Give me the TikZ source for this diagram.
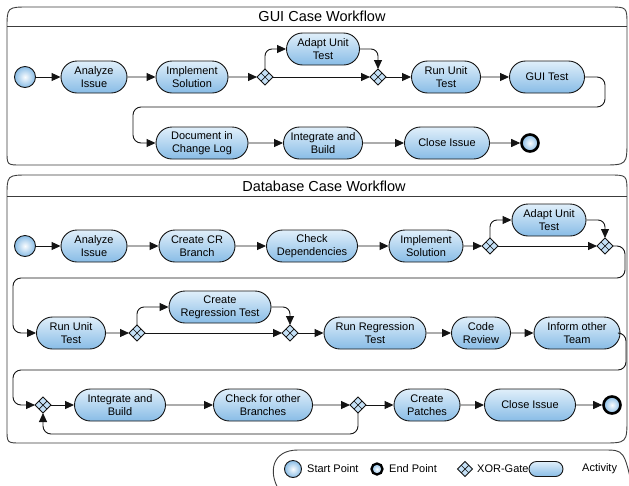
\documentclass[tikz,border=0pt]{standalone}
\usepackage{fontspec}
\setmainfont{Liberation Sans}
\usetikzlibrary{shapes.misc,shapes.geometric,arrows.meta,calc}
\definecolor{actTop}{RGB}{224,239,250}
\definecolor{actBot}{RGB}{136,188,230}
\definecolor{gateFill}{RGB}{196,224,246}
\definecolor{lineCol}{RGB}{20,20,20}
\definecolor{frameCol}{RGB}{60,60,60}
\begin{document}
\begin{tikzpicture}[x=1pt,y=-1pt,
  every node/.style={font=\fontsize{11}{13}\selectfont},
  act/.style={rounded rectangle, draw=lineCol, line width=0.9pt, top color=actTop, bottom color=actBot,
    minimum height=32pt, inner xsep=2pt, inner ysep=1pt, align=center},
  startpt/.style={circle, draw=lineCol, line width=0.9pt, inner sep=0pt, minimum size=21pt,
    inner color=white!85!actTop, outer color=actBot},
  endpt/.style={circle, draw=black, line width=2.6pt, inner sep=0pt, minimum size=17pt,
    inner color=white!85!actTop, outer color=actBot},
  gate/.style={diamond, aspect=1, draw=lineCol, line width=0.8pt, fill=gateFill, inner sep=0pt,
    outer sep=0pt, minimum size=16pt,
    path picture={
      \draw[lineCol, line width=0.7pt]
        ($(path picture bounding box.north)!0.5!(path picture bounding box.east)$) --
        ($(path picture bounding box.south)!0.5!(path picture bounding box.west)$)
        ($(path picture bounding box.north)!0.5!(path picture bounding box.west)$) --
        ($(path picture bounding box.south)!0.5!(path picture bounding box.east)$);}},
  arr/.style={draw=lineCol, line width=0.9pt, -{Triangle[length=9pt,width=8pt]}},
  frame/.style={draw=frameCol, line width=0.9pt},
  titletxt/.style={font=\fontsize{14.5}{16}\selectfont, inner sep=0pt},
  legtxt/.style={anchor=west, inner sep=0pt}
]
\useasboundingbox (0,0) rectangle (629,485);

% ---------- frames ----------
\draw[frame] (7,153) -- (7,29) .. controls (7,7) .. (29,7) -- (609,7) .. controls (627,7) .. (627,25)
  -- (627,140) .. controls (627,165) .. (602,165) -- (21,165) .. controls (7,165) .. (7,151) -- cycle;
\draw[frame] (7,26) -- (627,26);
\node[titletxt] (t1) at (322,16.5) {GUI Case Workflow};

\draw[frame] (7,429) -- (7,197) .. controls (7,175) .. (29,175) -- (609,175) .. controls (627,175) .. (627,193)
  -- (627,418) .. controls (627,443) .. (602,443) -- (21,443) .. controls (7,443) .. (7,429) -- cycle;
\draw[frame] (7,196) -- (627,196);
\node[titletxt] (t2) at (324,186) {Database Case Workflow};

\draw[frame] (279,490) .. controls (268,472) and (272,450) .. (298,450) -- (604,450)
  .. controls (624,450) .. (633,490);

% ---------- GUI workflow ----------
\node[startpt] (s1) at (25,77) {};
\node[act, minimum width=70pt] (a1) at (94,77) {Analyze\\Issue};
\node[act, minimum width=76pt] (a2) at (192,77) {Implement\\Solution};
\node[gate] (g1) at (265,77) {};
\node[act, minimum width=77pt] (a3) at (323,49) {Adapt Unit\\Test};
\node[gate] (g2) at (378,77) {};
\node[act, minimum width=73pt] (a4) at (446,77) {Run Unit\\Test};
\node[act, minimum width=79pt] (a5) at (547,77) {GUI Test};
\node[act, minimum width=96pt] (a6) at (202,143) {Document in\\Change Log};
\node[act, minimum width=83pt] (a7) at (323,143) {Integrate and\\Build};
\node[act, minimum width=89pt] (a8) at (447,143) {Close Issue};
\node[endpt] (e1) at (530,143) {};

\coordinate (k1) at (605,107);
\coordinate (k2) at (133,107);

\draw[arr] (s1) -- (a1);
\draw[arr] (a1) -- (a2);
\draw[arr] (a2) -- (g1);
\draw[arr, rounded corners=7pt] (g1.north) |- (a3.west);
\draw[arr, rounded corners=7pt] (a3.east) -| (g2.north);
\draw[arr] (g1) -- (g2);
\draw[arr] (g2) -- (a4);
\draw[arr] (a4) -- (a5);
\draw[arr, rounded corners=8pt] (a5.east) -| (k1) -- (k2) |- (a6.west);
\draw[arr] (a6) -- (a7);
\draw[arr] (a7) -- (a8);
\draw[arr] (a8) -- (e1);

% ---------- Database workflow ----------
\node[startpt] (s2) at (25,246) {};
\node[act, minimum width=70pt] (b1) at (94,246) {Analyze\\Issue};
\node[act, minimum width=80pt] (b2) at (197,246) {Create CR\\Branch};
\node[act, minimum width=95pt] (b3) at (312,246) {Check\\Dependencies};
\node[act, minimum width=78pt] (b4) at (426,246) {Implement\\Solution};
\node[gate] (g3) at (490,246) {};
\node[act, minimum width=78pt] (b5) at (549,220) {Adapt Unit\\Test};
\node[gate] (g4) at (605,246) {};

\node[act, minimum width=73pt] (c1) at (71,333) {Run Unit\\Test};
\node[gate] (g5) at (137,333) {};
\node[act, minimum width=106pt] (c2) at (220,307) {Create\\Regression Test};
\node[gate] (g6) at (290,333) {};
\node[act, minimum width=106pt] (c3) at (375,333) {Run Regression\\Test};
\node[act, minimum width=63pt] (c4) at (481,333) {Code\\Review};
\node[act, minimum width=90pt] (c5) at (577,333) {Inform other\\Team};

\node[gate] (g7) at (43,405) {};
\node[act, minimum width=95pt] (d1) at (120,405) {Integrate and\\Build};
\node[act, minimum width=103pt] (d2) at (263,405) {Check for other\\Branches};
\node[gate] (g8) at (358,405) {};
\node[act, minimum width=70pt] (d3) at (427,405) {Create\\Patches};
\node[act, minimum width=95pt] (d4) at (530,405) {Close Issue};
\node[endpt] (e2) at (612,405) {};

\coordinate (k3) at (625,278);
\coordinate (k4) at (13,278);
\coordinate (k5) at (626,370);
\coordinate (k6) at (13,370);
\coordinate (k7) at (200,434);

\draw[arr] (s2) -- (b1);
\draw[arr] (b1) -- (b2);
\draw[arr] (b2) -- (b3);
\draw[arr] (b3) -- (b4);
\draw[arr] (b4) -- (g3);
\draw[arr, rounded corners=7pt] (g3.north) |- (b5.west);
\draw[arr, rounded corners=7pt] (b5.east) -| (g4.north);
\draw[arr] (g3) -- (g4);
\draw[arr, rounded corners=8pt] (g4.east) -| (k3) -- (k4) |- (c1.west);

\draw[arr] (c1) -- (g5);
\draw[arr, rounded corners=7pt] (g5.north) |- (c2.west);
\draw[arr, rounded corners=7pt] (c2.east) -| (g6.north);
\draw[arr] (g5) -- (g6);
\draw[arr] (g6) -- (c3);
\draw[arr] (c3) -- (c4);
\draw[arr] (c4) -- (c5);
\draw[arr, rounded corners=8pt] (c5.east) -| (k5) -- (k6) |- (g7.west);

\draw[arr] (g7) -- (d1);
\draw[arr] (d1) -- (d2);
\draw[arr] (d2) -- (g8);
\draw[arr] (g8) -- (d3);
\draw[arr] (d3) -- (d4);
\draw[arr] (d4) -- (e2);
\draw[arr, rounded corners=8pt] (g8.south) |- (k7) -| (g7.south);

% ---------- legend ----------
\node[startpt, minimum size=17pt] (ls) at (293,469) {};
\node[legtxt] (lst) at (307,469) {Start Point};
\node[endpt, minimum size=11pt, line width=2.3pt] (le) at (377,469) {};
\node[legtxt] (let) at (389,469) {End Point};
\node[gate, minimum size=15pt] (lg) at (465,469) {};
\node[legtxt] (lgt) at (477,469) {XOR-Gate};
\node[act, minimum width=38pt, minimum height=15pt] (la) at (546,469) {};
\node[legtxt] (lat) at (582,469) {Activity};
\end{tikzpicture}
\end{document}
